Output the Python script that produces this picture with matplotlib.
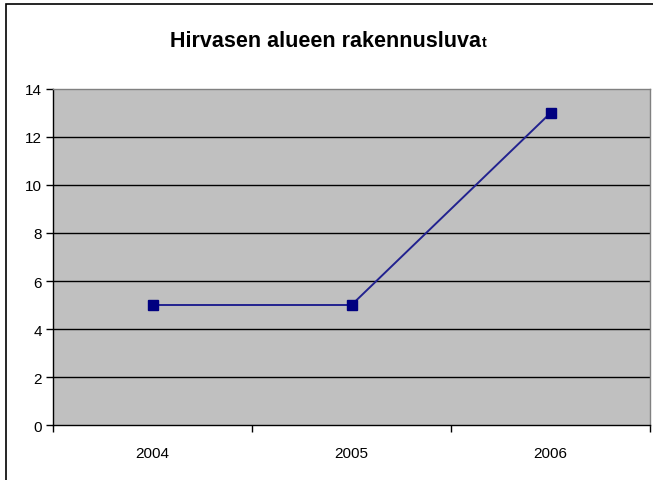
import matplotlib
matplotlib.use("Agg")
import matplotlib.pyplot as plt
from matplotlib.patches import Rectangle

years = ["2004", "2005", "2006"]
permits = [5, 5, 13]
yticks = [0, 2, 4, 6, 8, 10, 12, 14]

W, H = 653, 481
fig = plt.figure(figsize=(W / 100, H / 100), dpi=100)
plt.rcParams['font.family'] = ['Liberation Sans', 'DejaVu Sans']

# outer chart border (right and bottom edges fall outside the image)
fig.patches.append(Rectangle((6 / W, -0.2), 1.2, (H - 5) / H + 0.2, transform=fig.transFigure,
                             fill=False, edgecolor='black', linewidth=1.2, zorder=0))

left, right, top, bottom = 53, 650, 90, 426
ax = fig.add_axes([left / W, 1 - bottom / H, (right - left) / W, (bottom - top) / H])
ax.set_facecolor('#c0c0c0')

x = list(range(len(years)))
ax.plot(x, permits, color='#22228f', linewidth=1.4, zorder=3)
ax.plot(x, permits, linestyle='none', marker='s', markersize=6.5,
        markerfacecolor='#000080', markeredgecolor='#000080', zorder=4)

ax.set_xlim(-0.5, len(years) - 0.5)
ax.set_ylim(0, 14)
ax.set_yticks(yticks)
ax.set_yticklabels([str(v) for v in yticks], fontsize=11)
ax.set_xticks(x)
ax.set_xticklabels(years, fontsize=11)
ax.set_xticks([i - 0.5 for i in range(len(years) + 1)], minor=True)
ax.tick_params(axis='x', which='major', length=0, pad=15)
ax.tick_params(axis='x', which='minor', length=5, direction='out', width=1)
ax.tick_params(axis='y', length=5, direction='out', width=1, pad=3)

for v in yticks[1:-1]:
    ax.axhline(v, color='black', linewidth=1, zorder=1)

for s in ['top', 'right']:
    ax.spines[s].set_color('#808080')
    ax.spines[s].set_linewidth(1)
for s in ['left', 'bottom']:
    ax.spines[s].set_color('black')
    ax.spines[s].set_linewidth(1)

# title with smaller trailing letter
t1 = fig.text(170 / W, 1 - 47 / H, "Hirvasen alueen rakennusluva", fontsize=15.5,
              fontweight='bold', ha='left', va='baseline')
fig.canvas.draw()
bb = t1.get_window_extent()
fig.text(bb.x1 / W + 0.5 / W, 1 - 47 / H, "t", fontsize=10.5, fontweight='bold',
         ha='left', va='baseline')

fig.savefig("out.png", dpi=100)
